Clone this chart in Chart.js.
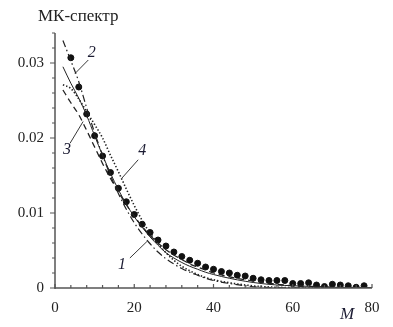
<!DOCTYPE html>
<html>
<head>
<meta charset="utf-8">
<script src="https://cdn.jsdelivr.net/npm/chart.js@4.4.1/dist/chart.umd.min.js"></script>
<style>
    html, body { margin: 0; padding: 0; background: #fff; }
    #wrap { width: 393px; height: 327px; position: relative; }
</style>
</head>
<body>
<div id="wrap"><canvas id="myChart"></canvas></div>
<script>
// МК-спектр: точки (расчёт) и кривые 1-4
var dotsM = [4, 6, 8, 10, 12, 14, 16, 18, 20, 22, 24, 26, 28, 30, 32, 34, 36, 38, 40, 42, 44, 46, 48, 50, 52, 54, 56, 58, 60, 62, 64, 66, 68, 70, 72, 74, 76, 78];
var dotsV = [0.0307, 0.0268, 0.0232, 0.0203, 0.0176, 0.0154, 0.0133, 0.0115, 0.0098, 0.0085, 0.0074, 0.0064, 0.0056, 0.0048, 0.0042, 0.0037, 0.0033, 0.0028, 0.0025, 0.0022, 0.0020, 0.0017, 0.0016, 0.0013, 0.0011, 0.0010, 0.0010, 0.0010, 0.0006, 0.0006, 0.0007, 0.0004, 0.0002, 0.0005, 0.0004, 0.0003, 0.0001, 0.0003];

var curveM = [2, 4, 6, 8, 10, 12, 14, 16, 18, 20, 22, 24, 26, 28, 30, 32, 34, 36, 38, 40, 44, 48, 52, 56, 60, 65, 70, 75, 80];
var curve1 = [0.0295, 0.0273, 0.0253, 0.0230, 0.0203, 0.0177, 0.0153, 0.0131, 0.0112, 0.0095, 0.0081, 0.0068, 0.0057, 0.0047, 0.0040, 0.0034, 0.0029, 0.0025, 0.0021, 0.0018, 0.0013, 0.0009, 0.0006, 0.0004, 0.0003, 0.0002, 0.0001, 0.00008, 0.00005];
var curve2 = [0.0330, 0.0303, 0.0275, 0.0240, 0.0207, 0.0177, 0.0150, 0.0126, 0.0105, 0.0087, 0.0072, 0.0059, 0.0048, 0.0039, 0.0032, 0.0026, 0.0021, 0.0017, 0.0013, 0.0010, 0.0006, 0.0003, 0.0001, 0.00005, 0.00002, 0, 0, 0, 0];
var curve3 = [0.0264, 0.0247, 0.0231, 0.0210, 0.0188, 0.0166, 0.0146, 0.0128, 0.0111, 0.0096, 0.0082, 0.0070, 0.0060, 0.0051, 0.0044, 0.0038, 0.0032, 0.0028, 0.0024, 0.0020, 0.0015, 0.0011, 0.0008, 0.0005, 0.0003, 0.0002, 0.0001, 0.00005, 0.00002];
var curve4 = [0.0271, 0.0266, 0.0252, 0.0235, 0.0218, 0.0200, 0.0177, 0.0155, 0.0132, 0.0110, 0.0090, 0.0073, 0.0059, 0.0047, 0.0037, 0.0029, 0.0023, 0.0018, 0.0014, 0.0011, 0.0007, 0.0004, 0.0002, 0.0001, 0.00003, 0, 0, 0, 0];

var xMax = 80;
var yMax = 0.034;
var xTickLabels = [0, 20, 40, 60, 80];
var yTickLabels = [0, 0.01, 0.02, 0.03];

// подписи кривых: [текст, M, значение] и выноски [M1, v1, M2, v2]
var curveLabels = [["1", 16.9, 0.0031], ["2", 9.3, 0.0313], ["3", 3.0, 0.0184], ["4", 22.0, 0.0183]];
var leaders = [[18.9, 0.0040, 23.2, 0.0062], [8.4, 0.0304, 5.05, 0.0286], [3.8, 0.0193, 7.1, 0.0222], [21.0, 0.0171, 16.8, 0.0146]];

function toPoints(xs, ys) {
    var pts = [];
    for (var i = 0; i < xs.length; i++) pts.push({ x: xs[i], y: ys[i] });
    return pts;
}

var decorPlugin = {
    id: 'decor',
    afterDraw: function (chart) {
        var ctx = chart.ctx;
        var xs = chart.scales.x, ys = chart.scales.y;
        var x0 = xs.getPixelForValue(0), y0 = ys.getPixelForValue(0);
        ctx.save();

        // оси
        ctx.strokeStyle = '#555';
        ctx.lineWidth = 1.5;
        ctx.beginPath();
        ctx.moveTo(x0, ys.getPixelForValue(yMax));
        ctx.lineTo(x0, y0 + 1);
        ctx.moveTo(x0 - 0.75, y0);
        ctx.lineTo(xs.getPixelForValue(xMax), y0);
        ctx.stroke();

        // засечки
        ctx.lineWidth = 1.2;
        ctx.beginPath();
        for (var m = 0; m <= xMax; m += 4) {
            var px = xs.getPixelForValue(m);
            var len = (m % 20 === 0) ? 4 : 3;
            ctx.moveTo(px, y0);
            ctx.lineTo(px, y0 - len);
        }
        for (var k = 0; k <= 17; k++) {
            var v = k * 0.002;
            var py = ys.getPixelForValue(v);
            var l = (k % 5 === 0) ? 5 : 3;
            ctx.moveTo(x0, py);
            ctx.lineTo(x0 - l, py);
        }
        ctx.stroke();

        // выноски
        ctx.strokeStyle = '#222';
        ctx.lineWidth = 0.9;
        ctx.beginPath();
        leaders.forEach(function (d) {
            ctx.moveTo(xs.getPixelForValue(d[0]), ys.getPixelForValue(d[1]));
            ctx.lineTo(xs.getPixelForValue(d[2]), ys.getPixelForValue(d[3]));
        });
        ctx.stroke();

        ctx.fillStyle = '#1c1c33';
        ctx.font = 'italic 16px "Liberation Serif", serif';
        ctx.textAlign = 'center';
        ctx.textBaseline = 'middle';
        curveLabels.forEach(function (d) {
            ctx.fillText(d[0], xs.getPixelForValue(d[1]), ys.getPixelForValue(d[2]));
        });

        // подпись оси M
        ctx.font = 'italic 17px "Liberation Serif", serif';
        ctx.fillText('M', 347, 315);

        // заголовок
        ctx.fillStyle = '#222';
        ctx.font = '17px "Liberation Serif", serif';
        ctx.textAlign = 'left';
        ctx.fillText('МК-спектр', 38, 17);
        ctx.restore();
    }
};

var tickFont = { family: '"Liberation Serif", serif', size: 15 };

var ctx = document.getElementById("myChart").getContext("2d");
var myChart = new Chart(ctx, {
    type: "line",
    data: {
        datasets: [
            {
                label: "1",
                data: toPoints(curveM, curve1),
                borderColor: "#222",
                borderWidth: 1,
                pointRadius: 0,
                cubicInterpolationMode: "monotone",
            },
            {
                label: "2",
                data: toPoints(curveM, curve2),
                borderColor: "#222",
                borderWidth: 1.2,
                borderDash: [7, 3, 1.5, 3],
                pointRadius: 0,
                cubicInterpolationMode: "monotone",
            },
            {
                label: "3",
                data: toPoints(curveM, curve3),
                borderColor: "#222",
                borderWidth: 1.3,
                borderDash: [6, 4],
                pointRadius: 0,
                cubicInterpolationMode: "monotone",
            },
            {
                label: "4",
                data: toPoints(curveM, curve4),
                borderColor: "#222",
                borderWidth: 1.6,
                borderDash: [1.4, 2],
                pointRadius: 0,
                cubicInterpolationMode: "monotone",
            },
            {
                type: "scatter",
                label: "МК",
                data: toPoints(dotsM, dotsV),
                backgroundColor: "#111",
                borderColor: "#111",
                pointRadius: 3,
                showLine: false,
            },
        ],
    },
    options: {
        responsive: true,
        maintainAspectRatio: false,
        animation: false,
        layout: { padding: { left: 0, right: 21, top: 33, bottom: 0 } },
        plugins: {
            legend: { display: false },
            tooltip: { enabled: false },
        },
        scales: {
            x: {
                type: "linear",
                min: 0,
                max: xMax,
                grid: { display: false, drawTicks: false },
                border: { display: false },
                afterBuildTicks: function (scale) {
                    scale.ticks = xTickLabels.map(function (v) { return { value: v }; });
                },
                afterFit: function (scale) { scale.height = 39; },
                ticks: {
                    font: tickFont,
                    color: "#222",
                    padding: 11,
                    maxRotation: 0,
                    autoSkip: false,
                    callback: function (v) { return String(v); },
                },
            },
            y: {
                min: 0,
                max: yMax,
                grid: { display: false, drawTicks: false },
                border: { display: false },
                afterBuildTicks: function (scale) {
                    scale.ticks = yTickLabels.map(function (v) { return { value: v }; });
                },
                afterFit: function (scale) { scale.width = 55; },
                ticks: {
                    font: tickFont,
                    color: "#222",
                    padding: 11,
                    autoSkip: false,
                    callback: function (v) { return v === 0 ? "0" : v.toFixed(2); },
                },
            },
        },
    },
    plugins: [decorPlugin],
});
</script>
</body>
</html>
